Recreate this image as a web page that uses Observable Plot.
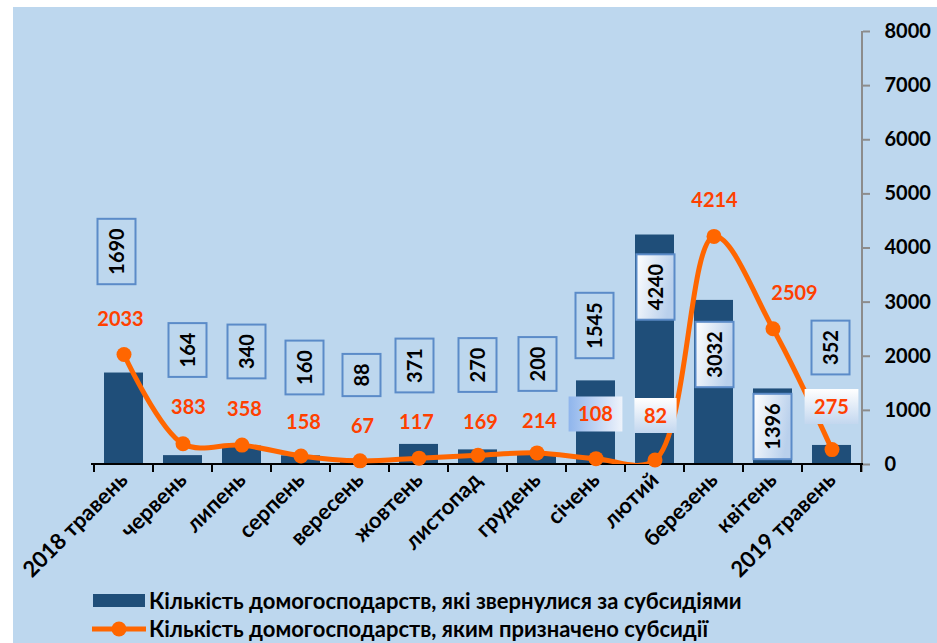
<!DOCTYPE html>
<html>
<head>
<meta charset="utf-8">
<script src="https://cdn.jsdelivr.net/npm/d3@7"></script>
<script src="https://cdn.jsdelivr.net/npm/@observablehq/plot@0.6"></script>
<style>
  html, body { margin: 0; padding: 0; background: #ffffff; }
  #wrap { position: absolute; left: 13px; top: 7px; width: 924px; height: 636px; background: #bdd7ee; overflow: hidden; font-family: Lato, "Open Sans", sans-serif; }
  #chart svg { display: block; overflow: visible; }
  #chart text { font-weight: 700; fill: #000; }
  [aria-label^="y-axis"] line, [aria-label="y-axis tick"] path { stroke: #8c8c8c; stroke-width: 2; }
  [aria-label="x-axis"] text, [aria-label="x-axis tick label"] text { font-size: 22px; }
  .legend { position: absolute; left: 79px; height: 24px; line-height: 24px; display: flex; align-items: center; font: 700 22px/24px Lato, sans-serif; color: #000; white-space: nowrap; }
  .legend svg { margin-right: 3px; }
</style>
</head>
<body>
<div id="wrap">
  <div class="legend" style="top:582px"><svg width="54" height="24"><rect x="1" y="5" width="52" height="13" fill="#1f4e79"></rect></svg><span>Кількість домогосподарств, які звернулися за субсидіями</span></div>
  <div class="legend" style="top:610px"><svg width="54" height="24"><line x1="0" x2="54" y1="12" y2="12" stroke="#ff6600" stroke-width="5"></line><circle cx="27" cy="12" r="7.5" fill="#ff6600"></circle></svg><span>Кількість домогосподарств, яким призначено субсидії</span></div>
  <div id="chart"></div>
</div>
<script>
// ---- data ----
const months = ["2018 травень", "червень", "липень", "серпень", "вересень", "жовтень", "листопад", "грудень", "січень", "лютий", "березень", "квітень", "2019 травень"];
const applied = [1690, 164, 340, 160, 88, 371, 270, 200, 1545, 4240, 3032, 1396, 352];
const granted = [2033, 383, 358, 158, 67, 117, 169, 214, 108, 82, 4214, 2509, 275];
const yTicks = [0, 1000, 2000, 3000, 4000, 5000, 6000, 7000, 8000];

// ---- label layout (anchor heights in data units, small pixel nudges) ----
const appliedLabelAt = [3926, 2106, 2079, 1783, 1644, 1820, 1829, 1848, 2559, 3270, 2023, 693, 2152];
const appliedLabelDx = [-7, 5, 5, 4, 2, -4, 0, 1, -1, 1, 1, 0, -1];
const grantedLabelAt = [2685, 1053, 1016, 785, 702, 776, 776, 794, 924, 896, 4887, 3169, 1062];
const grantedLabelDx = [-3, 6, 3, 3, 3, -2, 3, 3, 0, 1, 1, 22, 0];
const appliedBoxFill = ["none","none","none","none","none","none","none","none","none","url(#gBar)","url(#gBar)","url(#gBar)","none"];
const grantedBoxFill = [null,null,null,null,null,null,null,null,"url(#gBlue)","url(#gWhite)",null,null,"url(#gWhite)"];

const rows = months.map((m, i) => ({month: m, applied: applied[i], granted: granted[i]}));

const DIGIT = 11.6;

function axesRender(index, scales, values, dims) {
  const x = scales.x, y = scales.y;
  const bw = x.bandwidth();
  const step = x.step ? x.step() : (x(months[1]) - x(months[0]));
  const gap = (step - bw) / 2;
  const g = d3.create("svg:g");
  const x0 = dims.marginLeft, x1 = dims.width - dims.marginRight;
  const y0 = y(0), yTop = y(8000);
  g.append("line").attr("x1", x1).attr("x2", x1).attr("y1", yTop).attr("y2", y0 + 8)
    .attr("stroke", "#8c8c8c").attr("stroke-width", 2);
  g.append("line").attr("x1", x0 - 1).attr("x2", x1 + 1).attr("y1", y0).attr("y2", y0)
    .attr("stroke", "#000").attr("stroke-width", 2);
  const bounds = months.map(m => x(m) - gap).concat([x(months[months.length - 1]) + bw + gap]);
  for (const b of bounds) {
    g.append("line").attr("x1", b).attr("x2", b).attr("y1", y0).attr("y2", y0 + 8)
      .attr("stroke", "#000").attr("stroke-width", 2);
  }
  return g.node();
}

function defsRender() {
  const g = d3.create("svg:g");
  const defs = g.append("defs");
  const gb = defs.append("linearGradient").attr("id", "gBar").attr("x1", 0).attr("x2", 1).attr("y1", 0).attr("y2", 0.3);
  gb.append("stop").attr("offset", 0).attr("stop-color", "#ffffff");
  gb.append("stop").attr("offset", 1).attr("stop-color", "#b9d0ec");
  const gl = defs.append("linearGradient").attr("id", "gBlue").attr("x1", 0).attr("x2", 1).attr("y1", 0).attr("y2", 0);
  gl.append("stop").attr("offset", 0).attr("stop-color", "#8fb5ec");
  gl.append("stop").attr("offset", 1).attr("stop-color", "#eef3fb");
  const gw = defs.append("linearGradient").attr("id", "gWhite").attr("x1", 0).attr("x2", 0).attr("y1", 0).attr("y2", 1);
  gw.append("stop").attr("offset", 0).attr("stop-color", "#ffffff");
  gw.append("stop").attr("offset", 1).attr("stop-color", "#c3d7ef");
  return g.node();
}

function appliedLabelsRender(index, scales) {
  const x = scales.x, y = scales.y;
  const bw = x.bandwidth();
  const g = d3.create("svg:g");
  months.forEach((m, i) => {
    const cx = x(m) + bw / 2 + appliedLabelDx[i];
    const cy = y(appliedLabelAt[i]);
    const txt = String(applied[i]);
    const h = txt.length * DIGIT + 19, w = 38;
    g.append("rect").attr("x", cx - w / 2).attr("y", cy - h / 2).attr("width", w).attr("height", h)
      .attr("fill", appliedBoxFill[i]).attr("stroke", "#5b8bc8").attr("stroke-width", 2);
    g.append("text").attr("transform", `translate(${cx},${cy}) rotate(-90)`)
      .attr("text-anchor", "middle").attr("dy", "0.36em")
      .attr("font-size", 20).attr("font-weight", 700).attr("fill", "#000").text(txt);
  });
  return g.node();
}

function grantedLabelsRender(index, scales) {
  const x = scales.x, y = scales.y;
  const bw = x.bandwidth();
  const g = d3.create("svg:g");
  months.forEach((m, i) => {
    const cx = x(m) + bw / 2 + grantedLabelDx[i];
    const cy = y(grantedLabelAt[i]);
    const txt = String(granted[i]);
    if (grantedBoxFill[i]) {
      const w = txt.length * DIGIT + 19, h = 35;
      g.append("rect").attr("x", cx - w / 2).attr("y", cy - h / 2).attr("width", w).attr("height", h)
        .attr("fill", grantedBoxFill[i]);
    }
    g.append("text").attr("x", cx).attr("y", cy)
      .attr("text-anchor", "middle").attr("dy", "0.36em")
      .attr("font-size", 20).attr("font-weight", 700).attr("style", "fill:#ff4000").text(txt);
  });
  return g.node();
}

const chart = Plot.plot({
  width: 924,
  height: 575,
  marginLeft: 79,
  marginRight: 75,
  marginTop: 24,
  marginBottom: 118,
  style: {background: "transparent", fontFamily: "Lato, sans-serif", fontSize: "20px", fontWeight: "700", color: "#000", overflow: "visible"},
  x: {type: "band", domain: months, paddingInner: 0.34, paddingOuter: 0.17, label: null, tickSize: 0, tickRotate: -45, tickPadding: 12},
  y: {domain: [0, 8000], axis: "right", ticks: yTicks, tickFormat: d => String(d), tickSize: 7, tickPadding: 15, label: null},
  marks: [
    defsRender,
    Plot.barY(rows, {x: "month", y: "applied", fill: "#1f4e79"}),
    axesRender,
    appliedLabelsRender,
    Plot.line(rows, {x: "month", y: "granted", curve: "catmull-rom", stroke: "#ff6600", strokeWidth: 5, clip: true}),
    Plot.dot(rows, {x: "month", y: "granted", r: 7.5, fill: "#ff6600", stroke: "none"}),
    grantedLabelsRender
  ]
});
document.getElementById("chart").appendChild(chart);
</script>
</body>
</html>
